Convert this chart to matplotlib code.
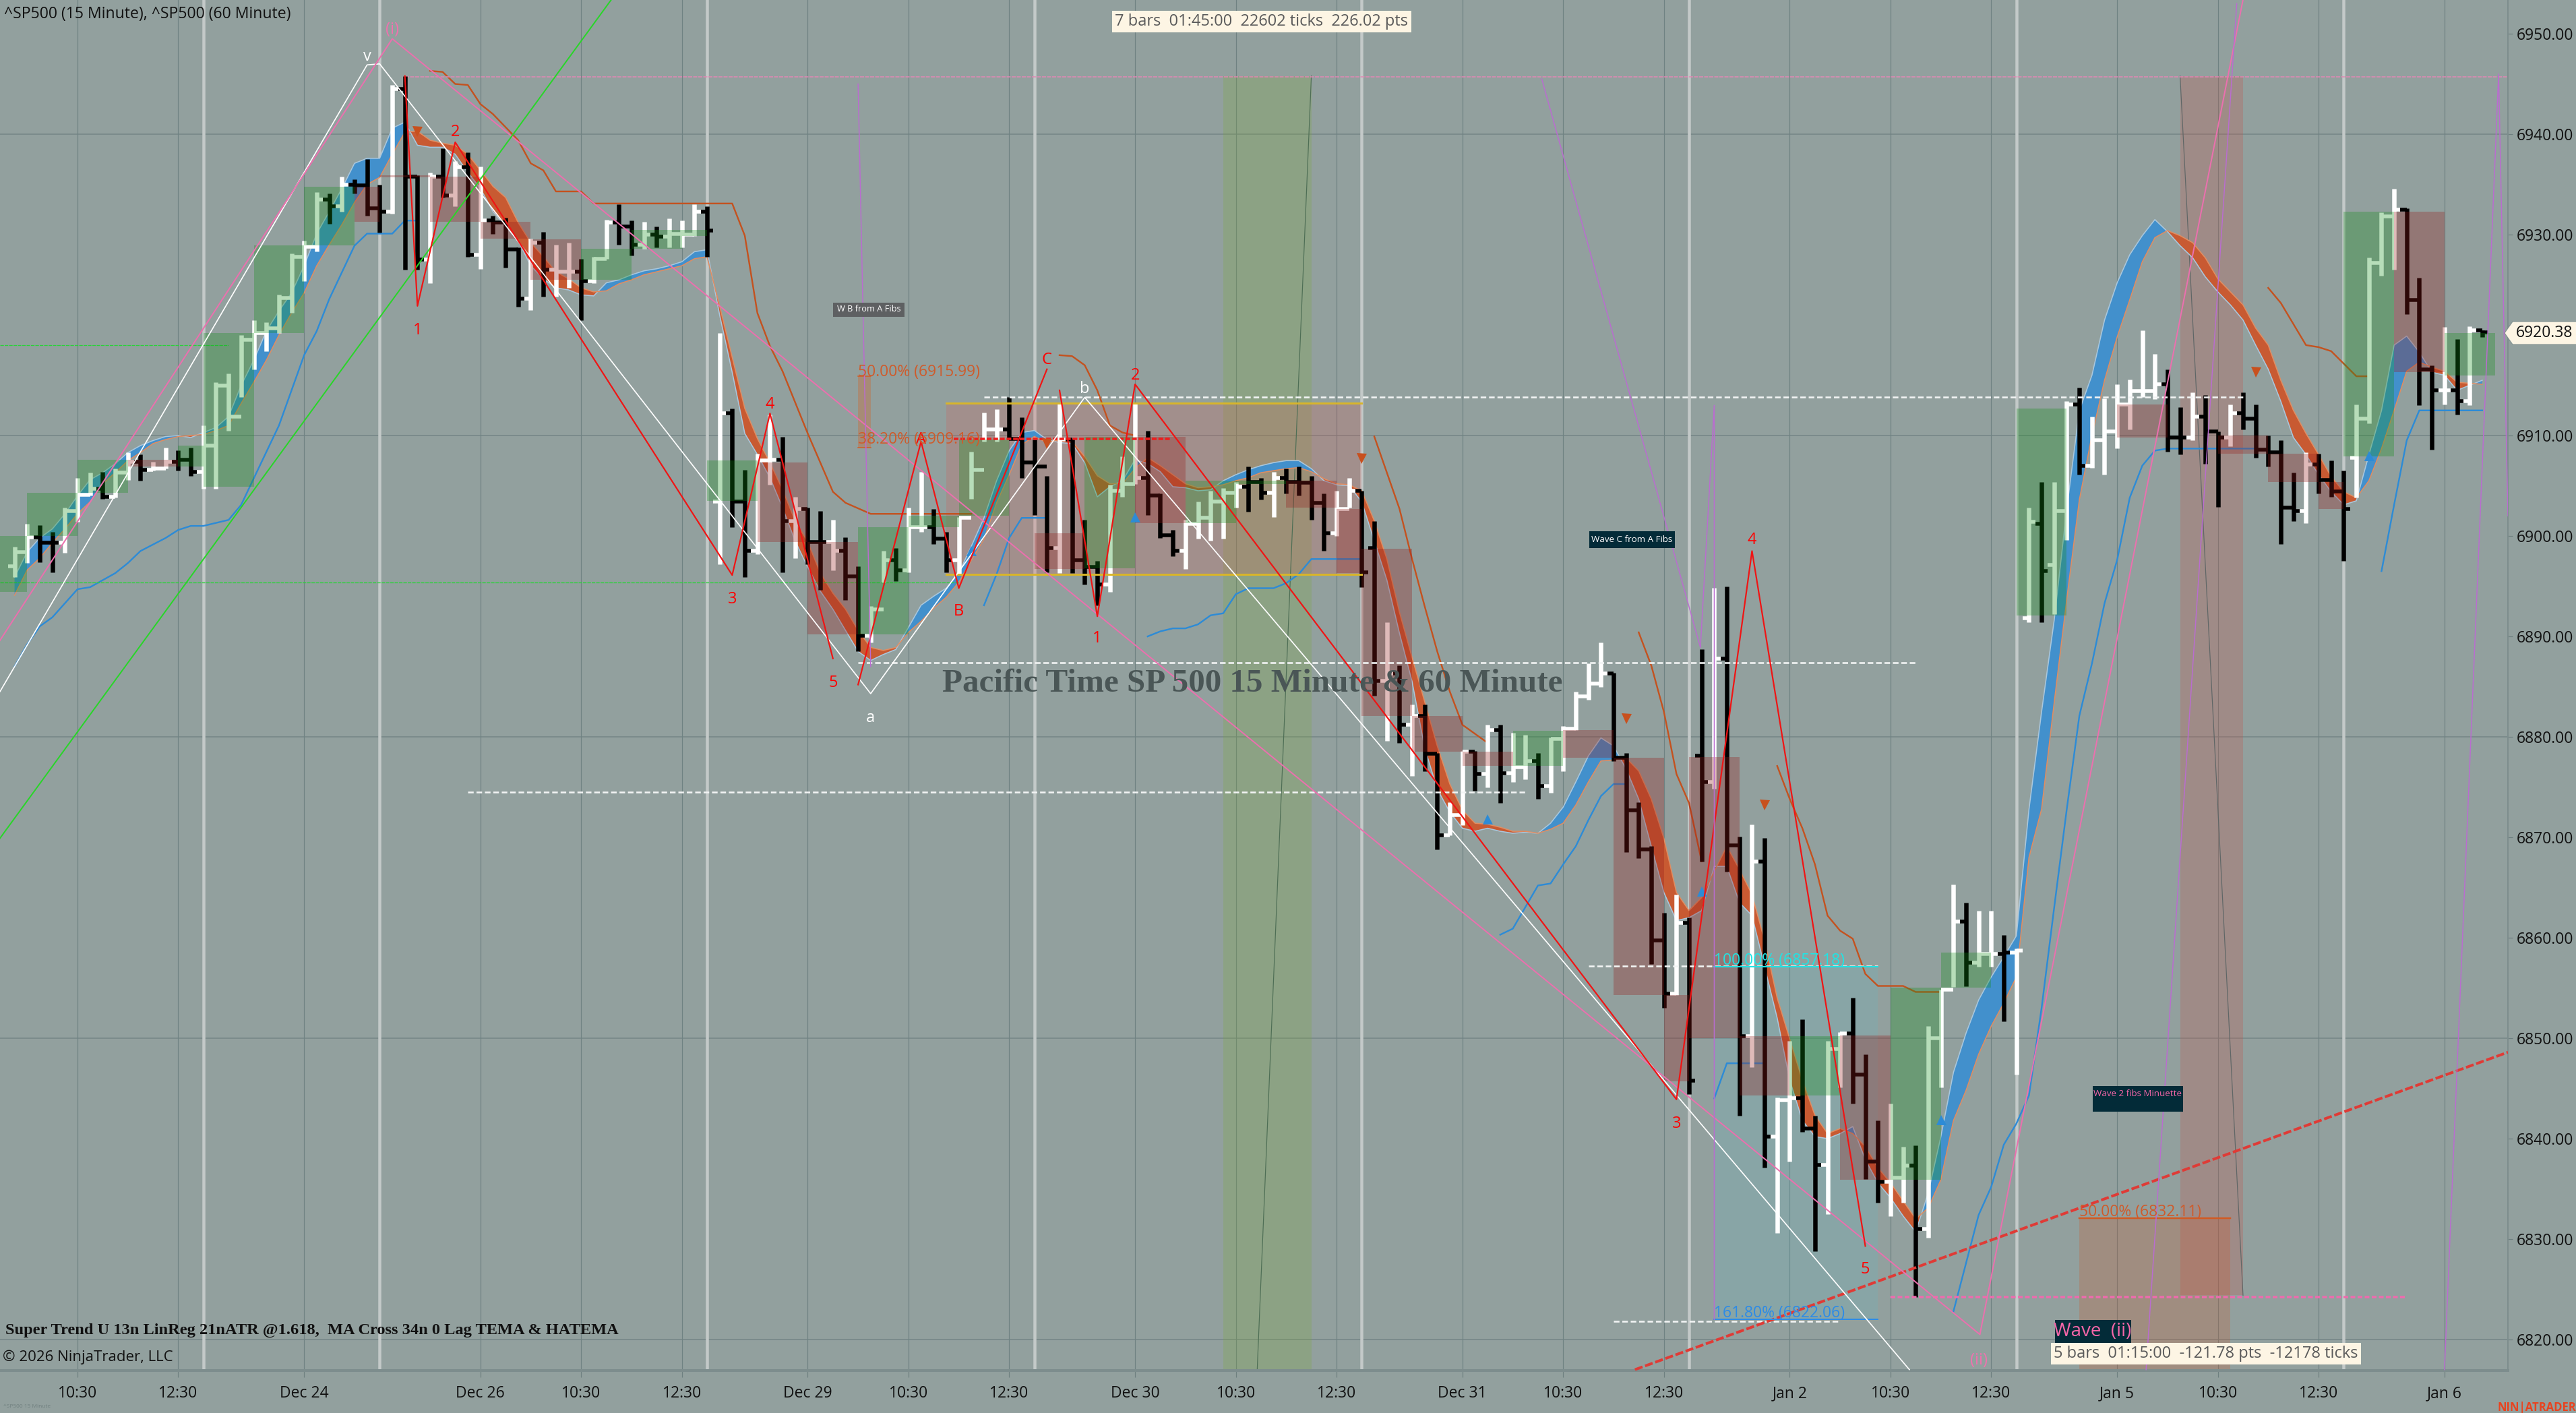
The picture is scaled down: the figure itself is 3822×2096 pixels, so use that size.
import matplotlib
matplotlib.use("Agg")
import numpy as np
import matplotlib.pyplot as plt
from matplotlib.patches import Polygon, Rectangle

W, H = 3823, 2096
BG = '#92A09E'
UI = ['Open Sans', 'DejaVu Sans']
SERIF = 'Liberation Serif'

# 15 minute bars, one char per bar: W up, B down
bar_kind = ("WWBBWWWBWW" "BWWBBWWWWW" "WWWWWBWBBB" "WBBWBWBWBB" "BWBWWBWWBB"
            "WBWWWBWBBW" "WBWBBWBBWW" "BWWBBWWWWB" "BBBWBBBWWW" "BBBWWWWWBB"
            "WBBBBWWBBW" "BWBBWWBWBW" "WBWWWWWBBB" "BBWBBWBBWB" "WWBBWWBBBW"
            "WBWWWBWWBW" "WBWWBWWWWW" "WBBWBBWBBB" "BBWBBBWWWW" "BBBWBWB")
bar_hi = [6898.9,6901.2,6901.1,6900.4,6902.8,6905.8,6906.3,6906.4,6906.7,6908.3,
          6908.1,6907.4,6908.8,6908.5,6908.8,6911.0,6915.3,6916.2,6920.0,6921.5,
          6921.3,6924.0,6928.1,6929.4,6934.2,6934.1,6935.8,6935.5,6937.5,6935.0,
          6944.9,6945.8,6935.9,6936.2,6938.6,6937.3,6938.2,6936.8,6931.9,6931.7,
          6928.7,6929.6,6930.3,6929.0,6929.2,6927.6,6927.8,6931.5,6933.0,6931.4,
          6931.3,6930.8,6931.6,6931.4,6933.0,6932.8,6920.2,6912.7,6906.6,6908.2,
          6912.1,6909.9,6903.9,6902.8,6902.5,6901.6,6899.9,6897.0,6893.0,6898.5,
          6898.8,6902.8,6906.4,6902.7,6900.4,6901.9,6908.4,6912.3,6912.6,6913.8,
          6911.8,6909.6,6906.0,6913.2,6909.7,6901.6,6897.5,6905.1,6907.9,6913.2,
          6910.5,6904.2,6900.6,6901.6,6903.4,6904.5,6904.8,6905.4,6906.9,6905.8,
          6906.4,6906.7,6906.9,6906.0,6904.2,6904.5,6905.8,6904.5,6901.5,6891.4,
          6887.1,6883.2,6883.2,6878.4,6873.5,6878.6,6878.6,6881.2,6881.2,6880.4,
          6880.2,6878.4,6879.9,6881.1,6884.5,6887.3,6889.4,6886.4,6878.4,6873.5,
          6869.1,6862.5,6864.3,6862.0,6888.7,6894.8,6895.0,6870.1,6871.3,6869.9,
          6844.1,6849.7,6851.9,6842.3,6849.7,6850.6,6854.0,6848.4,6841.8,6843.5,
          6839.2,6839.3,6851.2,6854.8,6865.3,6863.5,6862.7,6862.7,6860.3,6858.9,
          6902.8,6905.4,6905.4,6913.4,6914.8,6911.9,6913.7,6915.1,6915.6,6920.5,
          6918.1,6916.6,6912.8,6914.3,6914.0,6910.4,6913.1,6914.3,6913.1,6910.0,
          6909.5,6906.3,6908.3,6908.2,6907.5,6906.5,6913.1,6927.7,6932.2,6934.6,
          6932.6,6925.7,6917.0,6920.8,6919.6,6920.9,6920.5]
bar_lo = [6895.9,6897.3,6897.4,6896.4,6898.3,6901.4,6904.0,6903.7,6903.8,6905.6,
          6905.5,6906.5,6906.7,6906.5,6906.0,6904.7,6904.7,6910.5,6913.8,6916.6,
          6918.4,6920.2,6922.2,6925.4,6928.3,6931.1,6932.3,6934.1,6931.9,6930.2,
          6932.1,6926.5,6926.5,6925.2,6933.7,6932.8,6927.8,6926.6,6930.1,6926.7,
          6922.8,6922.5,6923.8,6923.8,6924.7,6921.5,6925.2,6927.6,6929.0,6927.9,
          6928.6,6928.7,6928.7,6928.7,6929.9,6927.8,6897.2,6900.9,6895.9,6898.2,
          6905.1,6896.4,6897.8,6897.2,6894.6,6896.6,6893.6,6888.5,6889.4,6895.4,
          6895.5,6896.4,6900.4,6899.2,6896.4,6896.1,6903.7,6909.4,6909.4,6909.6,
          6905.8,6902.1,6896.4,6896.3,6896.3,6895.2,6893.1,6894.4,6903.9,6905.2,
          6902.1,6899.8,6898.0,6896.7,6899.7,6899.5,6899.7,6902.8,6902.4,6903.6,
          6901.9,6904.2,6904.0,6901.6,6898.5,6900.0,6902.8,6894.9,6884.1,6879.6,
          6879.4,6876.1,6876.6,6868.8,6870.2,6871.2,6874.6,6875.0,6873.4,6875.5,
          6875.8,6873.8,6874.4,6876.6,6880.7,6883.7,6885.0,6877.6,6868.5,6867.9,
          6857.4,6853.0,6854.3,6844.4,6867.6,6874.8,6866.6,6842.3,6847.1,6837.1,
          6830.6,6837.7,6840.7,6828.8,6832.5,6845.1,6843.5,6836.0,6833.6,6832.3,
          6833.6,6824.2,6830.1,6845.1,6855.1,6855.2,6857.1,6857.1,6851.7,6846.4,
          6891.4,6891.4,6892.2,6899.6,6906.1,6906.8,6906.1,6908.7,6910.6,6913.8,
          6913.6,6908.4,6908.1,6909.5,6907.2,6902.9,6908.9,6910.6,6907.8,6906.9,
          6899.2,6901.5,6901.3,6904.2,6903.9,6897.5,6903.8,6911.2,6925.9,6926.5,
          6922.1,6913.0,6908.6,6913.1,6912.1,6913.0,6919.8]
bar_close = [6898.4,6899.9,6899.3,6899.3,6902.5,6904.1,6904.7,6903.9,6906.3,6907.4,
             6906.6,6906.7,6907.4,6907.6,6906.4,6909.0,6915.0,6911.9,6919.5,6920.2,
             6920.7,6923.7,6927.8,6928.8,6933.5,6932.8,6935.0,6934.9,6932.6,6932.3,
             6944.5,6935.8,6927.5,6935.8,6933.9,6936.7,6928.0,6931.4,6931.2,6928.5,
             6923.6,6929.2,6926.5,6926.3,6926.3,6925.4,6927.6,6931.2,6930.8,6929.0,
             6930.0,6929.8,6930.1,6930.0,6932.3,6930.4,6912.2,6903.4,6898.5,6907.5,
             6907.6,6901.5,6902.7,6899.4,6899.4,6898.5,6896.0,6890.1,6892.7,6897.6,
             6896.6,6900.9,6900.9,6899.7,6897.6,6901.8,6906.6,6910.6,6910.6,6909.7,
             6907.3,6906.9,6898.8,6909.6,6897.6,6896.9,6895.2,6904.5,6905.2,6905.8,
             6904.0,6900.1,6898.5,6901.2,6901.8,6903.4,6904.3,6904.9,6905.4,6904.3,
             6905.8,6905.4,6905.3,6903.3,6900.3,6902.7,6904.5,6896.4,6885.6,6886.3,
             6881.2,6882.1,6878.3,6870.2,6872.2,6878.5,6876.3,6880.7,6876.4,6877.0,
             6877.6,6875.1,6879.8,6880.8,6884.0,6885.3,6886.3,6877.9,6872.7,6868.8,
             6859.7,6854.4,6861.5,6845.8,6875.5,6887.8,6869.2,6850.2,6867.6,6840.2,
             6843.8,6844.0,6841.0,6837.4,6848.9,6850.5,6846.4,6837.7,6835.7,6836.1,
             6837.3,6831.0,6850.0,6854.8,6861.6,6857.5,6858.4,6858.4,6858.5,6858.7,
             6901.4,6896.5,6902.5,6913.1,6907.0,6909.5,6910.4,6913.1,6914.4,6914.4,
             6915.1,6909.8,6909.8,6911.9,6910.4,6909.8,6912.2,6911.7,6908.6,6908.3,
             6902.8,6902.5,6907.1,6905.6,6904.4,6902.7,6911.7,6927.2,6931.8,6932.5,
             6923.5,6916.6,6914.5,6914.5,6913.4,6920.5,6920.3]
# open sits on the previous close except where the bar gapped
open_gaps = {0: 6897.0, 56: 6903.4, 108: 6898.8, 134: 6878.1, 160: 6891.8,
             161: 6901.2, 162: 6897.1, 186: 6907.8}

# MA cross ribbon
rib_fast = [6895.9,6898.4,6899.8,6900.7,6902.2,6904.0,6905.6,6906.3,6907.2,6908.3,
            6909.0,6909.5,6909.9,6910.0,6909.8,6910.3,6910.8,6911.9,6915.0,6917.5,
            6920.4,6922.4,6924.2,6926.9,6930.1,6932.3,6934.6,6937.1,6937.6,6937.6,
            6940.6,6941.2,6938.9,6938.7,6938.7,6938.0,6936.2,6934.6,6932.3,6930.8,
            6929.4,6926.9,6925.6,6924.7,6924.5,6924.0,6923.9,6925.2,6925.5,6926.0,
            6926.4,6926.6,6926.9,6927.3,6928.3,6928.5,6922.0,6916.3,6910.2,6908.1,
            6905.8,6902.8,6899.5,6896.9,6894.5,6892.7,6890.6,6888.5,6887.6,6888.2,
            6888.7,6890.9,6893.1,6894.0,6894.8,6896.3,6899.0,6901.8,6905.5,6908.5,
            6910.3,6910.5,6909.6,6909.3,6909.2,6907.3,6903.9,6904.9,6905.5,6907.6,
            6907.2,6906.4,6904.9,6904.8,6904.5,6904.6,6905.5,6906.1,6906.6,6907.0,
            6907.3,6907.5,6907.5,6906.7,6905.5,6905.1,6905.0,6903.4,6899.5,6895.6,
            6890.3,6885.5,6878.9,6874.8,6872.5,6870.9,6870.6,6870.9,6870.6,6870.4,
            6870.5,6870.4,6871.4,6873.0,6875.5,6878.1,6879.9,6879.1,6876.8,6873.8,
            6869.1,6864.5,6861.7,6862.0,6862.7,6867.1,6867.1,6863.5,6862.2,6857.1,
            6852.0,6845.8,6841.8,6840.2,6840.0,6840.5,6841.2,6837.9,6835.6,6834.1,
            6832.3,6830.7,6834.6,6840.2,6846.6,6850.5,6853.8,6856.1,6858.1,6860.2,
            6872.8,6882.5,6891.6,6902.7,6912.5,6916.0,6921.5,6925.2,6928.0,6929.9,
            6931.5,6930.3,6928.9,6927.7,6925.8,6924.3,6923.0,6921.5,6919.0,6916.6,
            6913.4,6909.8,6908.1,6906.1,6904.4,6903.1,6903.5,6908.1,6912.5,6919.0,
            6919.9,6918.3,6916.3,6916.0,6914.5,6915.0,6915.5]
rib_slow = [6894.1,6896.6,6897.8,6899.3,6900.7,6902.2,6903.4,6905.2,6906.3,6907.5,
            6908.3,6909.2,6909.6,6909.9,6910.0,6910.1,6910.5,6911.0,6913.2,6915.3,
            6917.5,6920.0,6922.2,6924.2,6926.9,6929.0,6931.0,6933.2,6935.0,6935.7,
            6938.0,6940.2,6940.3,6939.4,6939.1,6938.9,6938.0,6936.4,6934.8,6933.7,
            6931.2,6929.2,6927.8,6926.3,6925.6,6924.7,6924.3,6924.4,6925.1,6925.5,
            6926.0,6926.3,6926.6,6926.9,6927.6,6927.8,6922.9,6917.8,6912.7,6909.7,
            6907.3,6904.6,6901.5,6899.4,6896.3,6894.3,6892.7,6890.6,6888.9,6888.6,
            6888.9,6890.4,6891.5,6892.8,6893.9,6895.4,6897.6,6899.7,6903.3,6906.1,
            6909.1,6909.9,6909.3,6909.6,6909.4,6907.9,6906.0,6905.2,6905.2,6906.7,
            6907.8,6907.0,6906.1,6905.2,6904.8,6904.9,6905.1,6905.5,6905.8,6906.3,
            6906.5,6906.7,6906.8,6906.4,6905.7,6905.2,6905.1,6904.5,6901.5,6897.7,
            6892.4,6887.9,6883.5,6879.1,6875.3,6872.7,6871.4,6871.3,6871.0,6870.6,
            6870.6,6870.4,6870.8,6871.4,6873.2,6875.5,6877.6,6877.7,6877.9,6876.6,
            6873.8,6869.9,6864.5,6862.7,6864.0,6866.6,6869.1,6866.8,6864.3,6859.7,
            6854.0,6849.9,6845.8,6842.3,6840.5,6841.0,6840.5,6839.2,6837.1,6835.6,
            6833.8,6832.0,6833.1,6835.9,6841.8,6844.8,6848.4,6851.2,6853.5,6856.1,
            6868.0,6872.8,6883.4,6893.7,6903.6,6910.0,6915.5,6919.8,6923.5,6927.3,
            6929.7,6930.4,6929.9,6929.2,6927.7,6925.6,6924.3,6923.0,6920.7,6919.0,
            6915.5,6912.5,6910.2,6908.1,6905.9,6904.4,6903.8,6905.5,6908.7,6912.5,
            6916.4,6917.3,6916.8,6916.4,6915.3,6915.2,6915.1]

# 60 minute bodies: start bar, end bar, top, bottom, G/R
hour_boxes = [(-1.2,1,6900.0,6894.4,'G'),(1,5,6904.3,6900.0,'G'),(5,9,6907.6,6904.3,'G'),
              (9,13,6907.6,6906.9,'R'),(13,15,6909.0,6906.9,'G'),(15,19,6920.2,6904.9,'G'),
              (19,23,6928.9,6920.2,'G'),(23,27,6934.8,6928.9,'G'),(27,29,6934.8,6931.3,'R'),
              (29,33,6935.9,6935.7,'R'),(33,37,6935.8,6931.3,'R'),(37,41,6931.3,6929.6,'R'),
              (41,45,6929.5,6925.5,'R'),(45,49,6928.6,6925.5,'G'),(49,53,6930.5,6928.6,'G'),
              (53,55,6930.5,6929.9,'G'),(55,59,6907.5,6903.5,'G'),(59,63,6907.3,6899.4,'R'),
              (63,67,6899.4,6890.2,'R'),(67,71,6900.9,6890.2,'G'),(71,75,6902.0,6900.9,'G'),
              (75,79,6909.6,6902.0,'G'),(81,85,6900.3,6896.7,'R'),(85,89,6909.9,6896.8,'G'),
              (89,93,6909.9,6901.3,'R'),(93,97,6905.5,6901.3,'G'),(97,101,6905.5,6905.2,'G'),
              (101,105,6905.5,6902.8,'R'),(105,107,6902.7,6896.3,'R'),(107,111,6898.7,6882.1,'R'),
              (111,115,6882.1,6878.5,'R'),(115,119,6878.5,6877.1,'R'),(119,123,6880.6,6877.1,'G'),
              (123,127,6880.7,6877.9,'R'),(127,131,6877.9,6854.3,'R'),(131,133,6854.3,6845.7,'R'),
              (133,137,6878.0,6850.0,'R'),(137,141,6850.2,6844.3,'R'),(141,145,6850.2,6844.3,'G'),
              (145,149,6850.3,6835.9,'R'),(149,153,6855.0,6835.9,'G'),(153,157,6858.5,6855.0,'G'),
              (159,163,6912.7,6892.1,'G'),(167,171,6913.1,6909.8,'R'),(175,179,6910.0,6908.2,'R'),
              (179,183,6908.2,6905.4,'R'),(183,185,6905.4,6902.7,'R'),(185,189,6932.3,6907.9,'G'),
              (189,193,6932.3,6916.3,'R'),(193,197,6920.2,6916.0,'G')]

# super trend pieces
trend_x = [[33,34,35,36,37,38,40,41,42,43,45,46,57,58,59,60,61,63,65,66,68,76],
           [83,84,85,86,87,88,89],
           [108,110,111,112,113,114,115,117],
           [129,130,131,132,133,134],
           [140,141,142,143,144,145,146,147,148,150,151,153],
           [179,180,182,183,184,186,187]]
trend_y = [[6946.3,6946.2,6945.0,6944.9,6943.0,6942.0,6939.4,6937.1,6936.4,6934.3,6934.3,6933.1,
            6933.1,6929.9,6922.2,6918.9,6916.4,6910.2,6904.4,6903.3,6902.2,6902.2],
           [6918.0,6917.9,6917.0,6914.5,6911.0,6910.3,6910.0],
           [6909.9,6902.7,6897.7,6893.0,6888.5,6884.5,6881.2,6879.4],
           [6890.4,6887.1,6882.5,6876.3,6873.4,6867.6],
           [6877.1,6873.8,6870.9,6867.3,6862.2,6860.7,6859.9,6856.4,6855.2,6855.2,6854.6,6854.6],
           [6924.7,6923.2,6919.0,6918.8,6918.4,6915.9,6915.9]]
# lower blue band pieces
band_x = [[0,1,2,3,5,6,8,9,10,12,13,14,15,17,18,21,23,24,25,27,28,30,31,32],
          [77,78,79,80,82],
          [90,91,92,93,94,95,96,97,98,100,101,102,103,107],
          [118,119,121,122,123,124,125,126,127,128],
          [135,136,139],
          [154,156,157,158,159,160,161,162,163,164,165,166,167,168,169,170,171,178],
          [188,189,190,191,196]]
band_y = [[6887.0,6889.2,6891.0,6891.9,6894.7,6894.9,6896.3,6897.3,6898.5,6899.8,6900.6,6901.0,
           6901.0,6901.6,6903.1,6911.0,6918.0,6920.4,6923.6,6928.9,6930.1,6930.1,6931.4,6931.4],
          [6893.1,6896.2,6899.8,6901.8,6901.8],
          [6890.0,6890.5,6890.8,6890.8,6891.2,6892.1,6892.3,6894.2,6894.8,6894.8,6895.3,6896.2,6897.7,6897.7],
          [6860.3,6860.9,6865.2,6865.4,6867.3,6869.1,6871.7,6874.1,6875.3,6875.3],
          [6844.0,6847.5,6847.5],
          [6822.8,6832.4,6835.2,6839.4,6841.5,6844.3,6853.0,6863.0,6872.8,6882.1,6887.3,6893.3,6897.6,
           6903.8,6907.0,6908.5,6908.7,6908.7],
          [6896.5,6903.1,6909.5,6912.5,6912.5]]

# wave drawings
red_x = [[31,32,35,57,60,65],[67,72,75,82],[83,86,89,132,138,147]]
red_y = [[6945.8,6922.9,6939.2,6896.1,6912.2,6887.8],[6885.2,6909.4,6894.8,6916.6],
         [6914.5,6892.0,6915.1,6843.9,6898.5,6829.3]]
white_x = [-1.16,28,29,68,85,150.5]
white_y = [6884.5,6946.9,6947.0,6884.3,6913.8,6817.0]
pink_x = [-1.16,30,156.1,177]
pink_y = [6889.6,6949.5,6820.5,6953.4]
green_x = [-1.16,47.4]
green_y = [6869.9,6953.4]
purple_x = [[67,68],[121.3,133.9,135,135],[169.3,176.5],[193,197.3,198.04]]
purple_y = [[6945,6887],[6945.5,6888.9,6913,6822],[6817,6953],[6817,6946,6902]]

wave_labels = [(32,6920.5,'1','red'),(35,6940.2,'2','red'),(57,6893.7,'3','red'),(60,6913.1,'4','red'),
               (65,6885.4,'5','red'),(72,6909.6,'A','red'),(75,6892.5,'B','red'),(82,6917.5,'C','red'),
               (86,6889.8,'1','red'),(89,6916.0,'2','red'),(132,6841.5,'3','red'),(138,6899.6,'4','red'),
               (147,6827.0,'5','red'),(28,6947.7,'v','white'),(68,6881.9,'a','white'),(85,6914.6,'b','white'),
               (30,6950.4,'(i)','#EE72AE'),(156,6817.9,'(ii)','#EE72AE')]
marks_down = [(32,6940.3),(82,6909.2),(107,6907.7),(128,6881.8),(139,6873.2),(178,6916.3)]
marks_up = [(76,6898.5),(89,6901.9),(117,6871.8),(134,6864.6),(153,6841.9),(187,6908.0)]

# dashed levels: price, from bar, to bar
white_levels = [(6913.8,77,177),(6887.4,67,151),(6874.5,36,120),(6857.2,125,148),(6821.8,127,145)]

# fib texts: bar, price, text, colour
fib_labels = [(67,6916.3,'50.00% (6915.99)','#CF5B2B'),(67,6909.6,'38.20% (6909.16)','#CF5B2B'),
              (135,6857.7,'100.00% (6857.18)','#20E4E4'),(135,6822.6,'161.80% (6822.06)','#2D8BE6'),
              (164,6832.7,'50.00% (6832.11)','#CF5B2B')]

tick_bars = [5,13,23,37,45,53,63,71,79,89,97,105,115,123,131,141,149,157,167,175,183,193]
tick_text = ['10:30','12:30','Dec 24','Dec 26','10:30','12:30','Dec 29','10:30','12:30','Dec 30','10:30',
             '12:30','Dec 31','10:30','12:30','Jan 2','10:30','12:30','Jan 5','10:30','12:30','Jan 6']
session_bars = [15,29,55,81,107,133,159,185]
price_ticks = list(range(6820, 6951, 10))
grid_prices = [6820,6850,6880,6910,6940]

fig = plt.figure(figsize=(W/100, H/100), dpi=100, facecolor=BG)
ax = fig.add_axes([0, (H-2033)/H, 3721/W, 2033/H], facecolor=BG)
ax.set_xlim(-1.156, 198.04)
ax.set_ylim(6816.91, 6953.36)

def px(v):
    return v*0.72

def ftext(x, y, s, **kw):
    return fig.text(x/W, 1-y/H, s, **kw)

for s in ax.spines.values():
    s.set_visible(False)
ax.spines['bottom'].set_visible(True)
ax.spines['bottom'].set_color('#7D8D8D')
ax.spines['bottom'].set_linewidth(px(4))
ax.spines['right'].set_visible(True)
ax.spines['right'].set_color('#7D8D8D')
ax.spines['right'].set_linewidth(px(2))

ax.yaxis.tick_right()
ax.set_yticks(price_ticks)
ax.set_yticklabels([f'{p:.2f}' for p in price_ticks], fontsize=16.5, family=UI, color='#111111')
ax.set_xticks(tick_bars)
ax.set_xticklabels(tick_text, fontsize=16.5, family=UI, color='#111111')
ax.tick_params(axis='x', length=px(10), width=px(1.2), color='#6E8080', pad=px(12))
ax.tick_params(axis='y', length=px(7), width=px(1.2), color='#6E8080', pad=px(6))

for p in grid_prices:
    ax.axhline(p, color='#768787', lw=px(1.6), zorder=1)
for b in tick_bars:
    ax.axvline(b, color='#6F8282', lw=px(1.2), zorder=1)
for b in session_bars:
    ax.axvline(b, color='#C3C9C8', lw=px(4.5), zorder=1.5)

# big translucent zones
ax.fill_between([96,103],6945.8,6816.9,color=(126/255,168/255,58/255),alpha=.25,lw=0,zorder=2)
ax.fill_between([172,177],6945.8,6824.4,color=(200/255,80/255,70/255),alpha=.25,lw=0,zorder=2)
ax.fill_between([74,107],6913.2,6896.2,color=(230/255,75/255,70/255),alpha=.2,lw=0,zorder=2)
ax.fill_between([67,68],6915.9,6908.8,color='#D0642C',alpha=.35,lw=0,zorder=2)
ax.fill_between([135,148],6857.1,6822.0,color=(100/255,190/255,200/255),alpha=.2,lw=0,zorder=2)
ax.fill_between([164,176],6832.1,6816.9,color=(205/255,85/255,40/255),alpha=.25,lw=0,zorder=2)

ax.plot([103,98.7],[6945.8,6817],color='#4E6E55',lw=px(1.2),zorder=2.2)
ax.plot([172,177],[6945.8,6824.4],color='#5F6666',lw=px(1.2),zorder=2.2)

# ribbon
idx = np.arange(len(bar_close))
fast = np.array(rib_fast)
slow = np.array(rib_slow)
ax.fill_between(idx, fast, slow, where=fast >= slow, interpolate=True, color='#4290CC', lw=0, zorder=3)
ax.fill_between(idx, fast, slow, where=fast <= slow, interpolate=True, color='#C85A32', lw=0, zorder=3)
ax.plot(idx, fast, color='#A9C7DD', lw=px(1.6), zorder=3.1)
ax.plot(idx, slow, color='#E08D62', lw=px(1.6), zorder=3.1)

for xs, ys in zip(trend_x, trend_y):
    ax.plot(xs, ys, color='#C4521F', lw=px(2.4), zorder=3.5)
for xs, ys in zip(band_x, band_y):
    ax.plot(xs, ys, color='#2D8BD6', lw=px(2.4), zorder=3.5)

# ohlc bars, hour boxes go over them so they tint the bars
opens = [open_gaps.get(i, bar_close[i-1]) for i in idx]
for i in idx:
    c = 'white' if bar_kind[i] == 'W' else 'black'
    ax.plot([i, i], [bar_lo[i], bar_hi[i]], color=c, lw=px(6.5), solid_capstyle='butt', zorder=5)
    ax.plot([i-.5, i], [opens[i], opens[i]], color=c, lw=px(5.5), solid_capstyle='butt', zorder=5)
    ax.plot([i, i+.5], [bar_close[i], bar_close[i]], color=c, lw=px(5.5), solid_capstyle='butt', zorder=5)

for x0, x1, top, bot, kind in hour_boxes:
    col = (17/255,143/255,25/255) if kind == 'G' else (150/255,27/255,25/255)
    ax.fill_between([x0, x1], top, bot, color=col, alpha=.3, lw=0, zorder=6)

# levels
ax.hlines(6945.7,31,198.04,color='#E487B5',lw=px(1.5),ls=(0,(4,1)),zorder=4)
ax.hlines(6919.0,-1.16,17,color='#2BD13A',lw=px(1.3),ls=(0,(4,1)),zorder=4)
ax.hlines(6895.4,-1.16,75,color='#2BD13A',lw=px(1.3),ls=(0,(4,1)),zorder=4)
for p, a, b in white_levels:
    ax.plot([a,b],[p,p],color='#F2F4F4',lw=px(2.6),ls=(0,(3.2,1.6)),zorder=7)
ax.plot([149,190],[6824.2,6824.2],color='#EE6BAE',lw=px(3.5),ls=(0,(2,1)),zorder=7)
ax.plot([128.7,198.04],[6817,6848.6],color='#DF3B36',lw=px(4),ls=(0,(3,1)),zorder=7)
ax.plot([74,107],[6913.2,6913.2],color='#D8B52A',lw=px(3),zorder=7)
ax.plot([74,107],[6896.2,6896.2],color='#D8B52A',lw=px(3),zorder=7)
ax.plot([74.6,91.9],[6909.7,6909.7],color='#EE1C1C',lw=px(3.5),ls=(0,(2,.8)),zorder=7)
ax.plot([135,148],[6857.1,6857.1],color='#20E4E4',lw=px(2),zorder=7)
ax.plot([135,148],[6822.0,6822.0],color='#2D8BE6',lw=px(2),zorder=7)
ax.plot([164,176],[6832.1,6832.1],color='#D25A22',lw=px(2.5),zorder=7)
ax.plot([67,68],[6915.9,6915.9],color='#D25A22',lw=px(1.5),zorder=7)
ax.plot([67,68],[6908.8,6908.8],color='#D25A22',lw=px(1.5),zorder=7)

# wave lines
ax.plot(white_x, white_y, color='white', lw=px(1.7), zorder=8)
ax.plot(pink_x, pink_y, color='#EB70AE', lw=px(2), zorder=8)
ax.plot(green_x, green_y, color='#28D628', lw=px(2), zorder=8)
for xs, ys in zip(red_x, red_y):
    ax.plot(xs, ys, color='#F01414', lw=px(2.2), zorder=8)
for xs, ys in zip(purple_x, purple_y):
    ax.plot(xs, ys, color='#BA6CD0', lw=px(1.5), zorder=8)

for x, y, s, c in wave_labels:
    ax.text(x, y, s, color=c, fontsize=17, family=UI, ha='center', va='center', zorder=9)
for x, y in marks_down:
    ax.plot(x, y, marker='v', ms=px(15), color='#C8501E', mew=0, zorder=7)
for x, y in marks_up:
    ax.plot(x, y, marker='^', ms=px(15), color='#2D8BD6', mew=0, zorder=7)

# texts
ax.text(73.7, 6885.3, 'Pacific Time SP 500 15 Minute & 60 Minute', family=SERIF, weight='bold', fontsize=35.4,
        color='#4A5656', va='center', ha='left', zorder=9)
for x, y, s, c in fib_labels:
    ax.text(x, y, s, color=c, fontsize=16.5, family=UI, va='center', zorder=9)

ftext(6, 21, '^SP500 (15 Minute), ^SP500 (60 Minute)', fontsize=16.6, family=UI, color='#111111', va='center')
ftext(4, 2013, '\u00a9 2026 NinjaTrader, LLC', fontsize=16, family=UI, color='#111111', va='center')
ftext(8, 1973, 'Super Trend U 13n LinReg 21nATR @1.618,  MA Cross 34n 0 Lag TEMA & HATEMA', fontsize=17.6,
      family=SERIF, weight='bold', color='#111111', va='center')
ftext(5, 2087, '^SP500 15 Minute', fontsize=6, family=UI, color='#70807F', va='center')
ftext(3822, 2088, 'NIN|ATRADER', fontsize=12, family=UI, weight='bold', color='#E8431F', va='center', ha='right')

def tag(x, y, s, fg, bg, size, ha='center', pad=3):
    return ftext(x, y, s, fontsize=size, family=UI, color=fg, ha=ha, va='center', zorder=20,
                 bbox=dict(boxstyle=f'square,pad={pad/size:.2f}', fc=bg, ec='none'))

def plate(x0, y0, x1, y1, col):
    fig.add_artist(Rectangle((x0/W, 1-y1/H), (x1-x0)/W, (y1-y0)/H, transform=fig.transFigure,
                             fc=col, ec='none', zorder=18))

tag(1872, 32, '7 bars  01:45:00  22602 ticks  226.02 pts', '#5A5A5A', '#FDF5E4', 17)
tag(3273, 2008, '5 bars  01:15:00  -121.78 pts  -12178 ticks', '#5A5A5A', '#FDF5E4', 17)
plate(3049, 1958, 3162, 1993, '#032B38')
ftext(3105, 1975, 'Wave  (ii)', fontsize=20, family=UI, color='#F566A8', ha='center', va='center', zorder=20)
plate(3105, 1611, 3239, 1649, '#032B38')
ftext(3172, 1622, 'Wave 2 fibs Minuette', fontsize=9.6, family=UI, color='#F566A8', ha='center', va='center', zorder=20)
plate(2358, 788, 2485, 813, '#032B38')
ftext(2421, 801, 'Wave C from A Fibs', fontsize=9.6, family=UI, color='white', ha='center', va='center', zorder=20)
plate(1236, 449, 1342, 470, '#5E6062')
ftext(1289, 459, 'W B from A Fibs', fontsize=9.2, family=UI, color='white', ha='center', va='center', zorder=20)

# last price flag
flag = [(3716,494),(3728,477),(3823,477),(3823,511),(3728,511)]
fig.add_artist(Polygon([(x/W, 1-y/H) for x, y in flag], closed=True, transform=fig.transFigure,
                       fc='#FDF5E4', ec='#7D8D8D', lw=px(1), zorder=15))
ftext(3733, 494, '6920.38', fontsize=16.5, family=UI, color='#111111', va='center', zorder=20)

fig.savefig('out.png', dpi=100, facecolor=BG)
